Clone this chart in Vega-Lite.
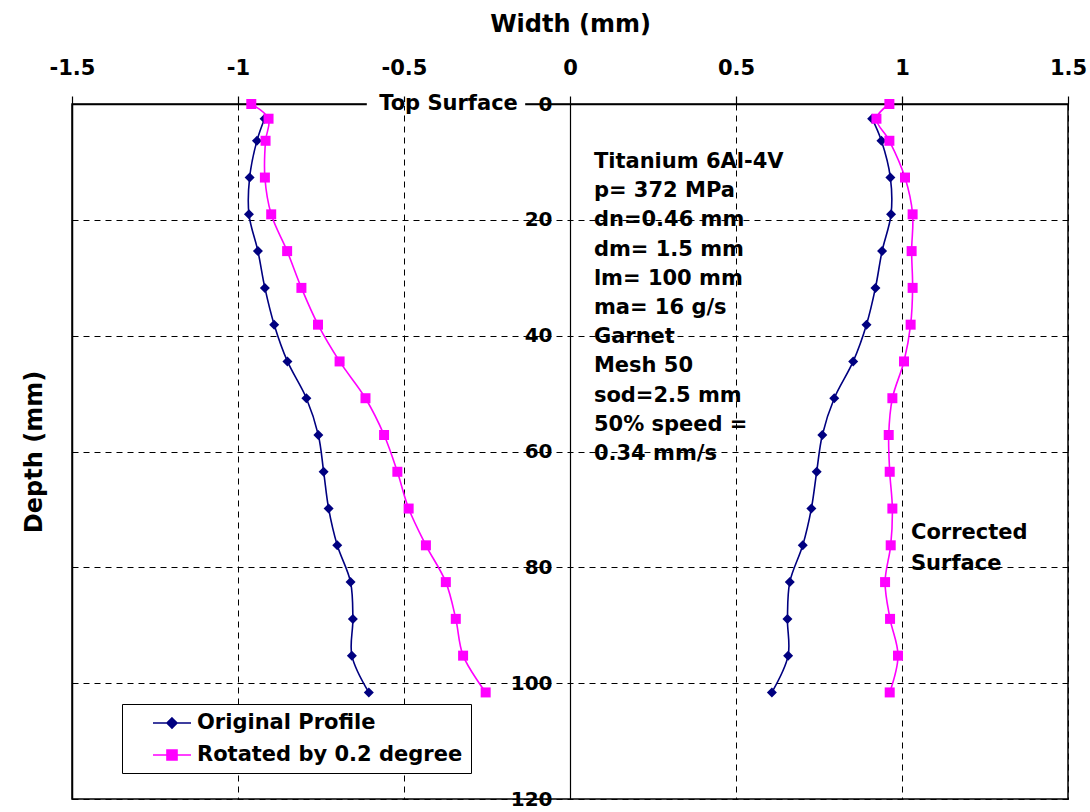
{
  "$schema": "https://vega.github.io/schema/vega-lite/v6.json",
  "width": 996,
  "height": 695,
  "autosize": "none",
  "padding": {"left": 72, "top": 104, "right": 22, "bottom": 13},
  "background": "white",
  "config": {
    "font": "DejaVu Sans",
    "view": {"stroke": "black", "strokeWidth": 1.5}
  },
  "data": {
    "values": [
      {"series": "Original Profile", "side": "L", "depth": 2.54, "width": -0.92},
      {"series": "Original Profile", "side": "L", "depth": 6.35, "width": -0.943},
      {"series": "Original Profile", "side": "L", "depth": 12.7, "width": -0.965},
      {"series": "Original Profile", "side": "L", "depth": 19.05, "width": -0.967},
      {"series": "Original Profile", "side": "L", "depth": 25.4, "width": -0.94},
      {"series": "Original Profile", "side": "L", "depth": 31.75, "width": -0.919},
      {"series": "Original Profile", "side": "L", "depth": 38.1, "width": -0.891},
      {"series": "Original Profile", "side": "L", "depth": 44.45, "width": -0.851},
      {"series": "Original Profile", "side": "L", "depth": 50.8, "width": -0.794},
      {"series": "Original Profile", "side": "L", "depth": 57.15, "width": -0.758},
      {"series": "Original Profile", "side": "L", "depth": 63.5, "width": -0.742},
      {"series": "Original Profile", "side": "L", "depth": 69.85, "width": -0.727},
      {"series": "Original Profile", "side": "L", "depth": 76.2, "width": -0.701},
      {"series": "Original Profile", "side": "L", "depth": 82.55, "width": -0.661},
      {"series": "Original Profile", "side": "L", "depth": 88.9, "width": -0.654},
      {"series": "Original Profile", "side": "L", "depth": 95.25, "width": -0.657},
      {"series": "Original Profile", "side": "L", "depth": 101.6, "width": -0.606},
      {"series": "Original Profile", "side": "R", "depth": 2.54, "width": 0.91},
      {"series": "Original Profile", "side": "R", "depth": 6.35, "width": 0.938},
      {"series": "Original Profile", "side": "R", "depth": 12.7, "width": 0.965},
      {"series": "Original Profile", "side": "R", "depth": 19.05, "width": 0.967},
      {"series": "Original Profile", "side": "R", "depth": 25.4, "width": 0.94},
      {"series": "Original Profile", "side": "R", "depth": 31.75, "width": 0.92},
      {"series": "Original Profile", "side": "R", "depth": 38.1, "width": 0.893},
      {"series": "Original Profile", "side": "R", "depth": 44.45, "width": 0.853},
      {"series": "Original Profile", "side": "R", "depth": 50.8, "width": 0.796},
      {"series": "Original Profile", "side": "R", "depth": 57.15, "width": 0.76},
      {"series": "Original Profile", "side": "R", "depth": 63.5, "width": 0.743},
      {"series": "Original Profile", "side": "R", "depth": 69.85, "width": 0.727},
      {"series": "Original Profile", "side": "R", "depth": 76.2, "width": 0.701},
      {"series": "Original Profile", "side": "R", "depth": 82.55, "width": 0.662},
      {"series": "Original Profile", "side": "R", "depth": 88.9, "width": 0.655},
      {"series": "Original Profile", "side": "R", "depth": 95.25, "width": 0.657},
      {"series": "Original Profile", "side": "R", "depth": 101.6, "width": 0.608},
      {"series": "Rotated by 0.2 degree", "side": "L", "depth": 0, "width": -0.96},
      {"series": "Rotated by 0.2 degree", "side": "L", "depth": 2.54, "width": -0.908},
      {"series": "Rotated by 0.2 degree", "side": "L", "depth": 6.35, "width": -0.917},
      {"series": "Rotated by 0.2 degree", "side": "L", "depth": 12.7, "width": -0.919},
      {"series": "Rotated by 0.2 degree", "side": "L", "depth": 19.05, "width": -0.9},
      {"series": "Rotated by 0.2 degree", "side": "L", "depth": 25.4, "width": -0.852},
      {"series": "Rotated by 0.2 degree", "side": "L", "depth": 31.75, "width": -0.809},
      {"series": "Rotated by 0.2 degree", "side": "L", "depth": 38.1, "width": -0.759},
      {"series": "Rotated by 0.2 degree", "side": "L", "depth": 44.45, "width": -0.694},
      {"series": "Rotated by 0.2 degree", "side": "L", "depth": 50.8, "width": -0.616},
      {"series": "Rotated by 0.2 degree", "side": "L", "depth": 57.15, "width": -0.56},
      {"series": "Rotated by 0.2 degree", "side": "L", "depth": 63.5, "width": -0.52},
      {"series": "Rotated by 0.2 degree", "side": "L", "depth": 69.85, "width": -0.486},
      {"series": "Rotated by 0.2 degree", "side": "L", "depth": 76.2, "width": -0.434},
      {"series": "Rotated by 0.2 degree", "side": "L", "depth": 82.55, "width": -0.374},
      {"series": "Rotated by 0.2 degree", "side": "L", "depth": 88.9, "width": -0.344},
      {"series": "Rotated by 0.2 degree", "side": "L", "depth": 95.25, "width": -0.322},
      {"series": "Rotated by 0.2 degree", "side": "L", "depth": 101.6, "width": -0.254},
      {"series": "Rotated by 0.2 degree", "side": "R", "depth": 0, "width": 0.962},
      {"series": "Rotated by 0.2 degree", "side": "R", "depth": 2.54, "width": 0.923},
      {"series": "Rotated by 0.2 degree", "side": "R", "depth": 6.35, "width": 0.962},
      {"series": "Rotated by 0.2 degree", "side": "R", "depth": 12.7, "width": 1.009},
      {"series": "Rotated by 0.2 degree", "side": "R", "depth": 19.05, "width": 1.032},
      {"series": "Rotated by 0.2 degree", "side": "R", "depth": 25.4, "width": 1.029},
      {"series": "Rotated by 0.2 degree", "side": "R", "depth": 31.75, "width": 1.032},
      {"series": "Rotated by 0.2 degree", "side": "R", "depth": 38.1, "width": 1.026},
      {"series": "Rotated by 0.2 degree", "side": "R", "depth": 44.45, "width": 1.006},
      {"series": "Rotated by 0.2 degree", "side": "R", "depth": 50.8, "width": 0.971},
      {"series": "Rotated by 0.2 degree", "side": "R", "depth": 57.15, "width": 0.96},
      {"series": "Rotated by 0.2 degree", "side": "R", "depth": 63.5, "width": 0.963},
      {"series": "Rotated by 0.2 degree", "side": "R", "depth": 69.85, "width": 0.971},
      {"series": "Rotated by 0.2 degree", "side": "R", "depth": 76.2, "width": 0.966},
      {"series": "Rotated by 0.2 degree", "side": "R", "depth": 82.55, "width": 0.949},
      {"series": "Rotated by 0.2 degree", "side": "R", "depth": 88.9, "width": 0.964},
      {"series": "Rotated by 0.2 degree", "side": "R", "depth": 95.25, "width": 0.988},
      {"series": "Rotated by 0.2 degree", "side": "R", "depth": 101.6, "width": 0.963}
    ]
  },
  "resolve": {"axis": {"y": "independent"}},
  "layer": [
    {
      "mark": {"type": "line", "interpolate": "catmull-rom", "strokeWidth": 1.6},
      "encoding": {
        "x": {
          "field": "width", "type": "quantitative",
          "scale": {"domain": [-1.5, 1.5], "nice": false, "zero": false},
          "axis": {
            "orient": "top",
            "title": "Width (mm)",
            "titleFontSize": 24, "titleFontWeight": "bold", "titleColor": "black", "titlePadding": 21,
            "values": [-1.5, -1, -0.5, 0, 0.5, 1, 1.5],
            "labelExpr": "toString(datum.value)",
            "labelOverlap": false,
            "labelFontSize": 21, "labelFontWeight": "bold", "labelColor": "black", "labelPadding": 18,
            "labelFlush": false,
            "tickColor": "black", "tickWidth": 1.2, "tickSize": 8,
            "domainColor": "black", "domainWidth": 1.5,
            "grid": true, "gridColor": "black", "gridDash": [6, 5], "gridWidth": 1
          }
        },
        "y": {
          "field": "depth", "type": "quantitative",
          "scale": {"domain": [0, 120], "reverse": true, "nice": false, "zero": false},
          "axis": {
            "orient": "left", "offset": -498, "title": null,
            "values": [0, 20, 40, 60, 80, 100, 120], "format": "d",
            "labelFontSize": 20, "labelFontWeight": "bold", "labelColor": "black", "labelPadding": 18,
            "labelFlush": false, "labelOverlap": false,
            "ticks": false, "domainColor": "black", "domainWidth": 1.2, "grid": false
          }
        },
        "color": {
          "field": "series", "type": "nominal",
          "scale": {"domain": ["Original Profile", "Rotated by 0.2 degree"], "range": ["#000080", "#FF00FF"]},
          "legend": {
            "orient": "none", "legendX": 50, "legendY": 600, "title": null,
            "strokeColor": "black", "fillColor": "white", "padding": 8,
            "labelFontSize": 21, "labelFontWeight": "bold", "labelColor": "black", "labelLimit": 500,
            "symbolSize": 400, "symbolOffset": 31, "labelOffset": 14, "rowPadding": 11,
            "symbolStrokeWidth": 1.6,
            "encode": {
              "symbols": {
                "update": {
                  "shape": {"signal": "datum.value === 'Original Profile' ? 'M-1.9,0L1.9,0M0,-0.5L0.5,0L0,0.5L-0.5,0Z' : 'M-1.9,0L1.9,0M-0.5,-0.5L0.5,-0.5L0.5,0.5L-0.5,0.5Z'"},
                  "fill": {"signal": "datum.value === 'Original Profile' ? '#000080' : '#FF00FF'"},
                  "stroke": {"signal": "datum.value === 'Original Profile' ? '#000080' : '#FF00FF'"},
                  "opacity": {"value": 1}
                }
              }
            }
          }
        },
        "detail": {"field": "side"},
        "order": {"field": "depth", "type": "quantitative"}
      }
    },
    {
      "transform": [{"filter": "datum.series === 'Original Profile'"}],
      "mark": {"type": "point", "shape": "diamond", "filled": true, "opacity": 1, "size": 100, "color": "#000080"},
      "encoding": {
        "x": {"field": "width", "type": "quantitative"},
        "y": {
          "field": "depth", "type": "quantitative",
          "axis": {
            "orient": "left", "title": "Depth (mm)",
            "titleFontSize": 24, "titleFontWeight": "bold", "titleColor": "black", "titlePadding": 26,
            "values": [0, 20, 40, 60, 80, 100, 120],
            "labels": false, "ticks": false, "domainColor": "black", "domainWidth": 1.5,
            "grid": true, "gridColor": "black", "gridDash": [6, 5], "gridWidth": 1
          }
        }
      }
    },
    {
      "transform": [{"filter": "datum.series !== 'Original Profile'"}],
      "mark": {"type": "point", "shape": "square", "filled": true, "opacity": 1, "size": 100, "color": "#FF00FF"},
      "encoding": {
        "x": {"field": "width", "type": "quantitative"},
        "y": {"field": "depth", "type": "quantitative", "axis": null}
      }
    },
    {
      "data": {"values": [{}]},
      "mark": {"type": "rule", "color": "white", "strokeWidth": 4},
      "encoding": {"x": {"datum": -0.612}, "x2": {"datum": -0.135}, "y": {"datum": 0, "axis": null}}
    },
    {
      "data": {"values": [{}]},
      "mark": {"type": "text", "text": "Top Surface", "align": "right", "baseline": "middle", "fontSize": 21, "fontWeight": "bold", "color": "black"},
      "encoding": {"x": {"datum": -0.157}, "y": {"datum": 0, "axis": null}}
    },
    {
      "data": {"values": [{}]},
      "mark": {
        "type": "text",
        "text": ["Titanium 6Al-4V", "p= 372 MPa", "dn=0.46 mm", "dm= 1.5 mm", "lm= 100 mm", "ma= 16 g/s", "Garnet", "Mesh 50", "sod=2.5 mm", "50% speed =", "0.34 mm/s"],
        "align": "left", "baseline": "middle", "fontSize": 21, "fontWeight": "bold", "color": "black", "lineHeight": 29.2
      },
      "encoding": {"x": {"datum": 0.072}, "y": {"datum": 10, "axis": null}}
    },
    {
      "data": {"values": [{}]},
      "mark": {
        "type": "text",
        "text": ["Corrected", "Surface"],
        "align": "left", "baseline": "middle", "fontSize": 21, "fontWeight": "bold", "color": "black", "lineHeight": 31
      },
      "encoding": {"x": {"datum": 1.027}, "y": {"datum": 74.1, "axis": null}}
    }
  ]
}
